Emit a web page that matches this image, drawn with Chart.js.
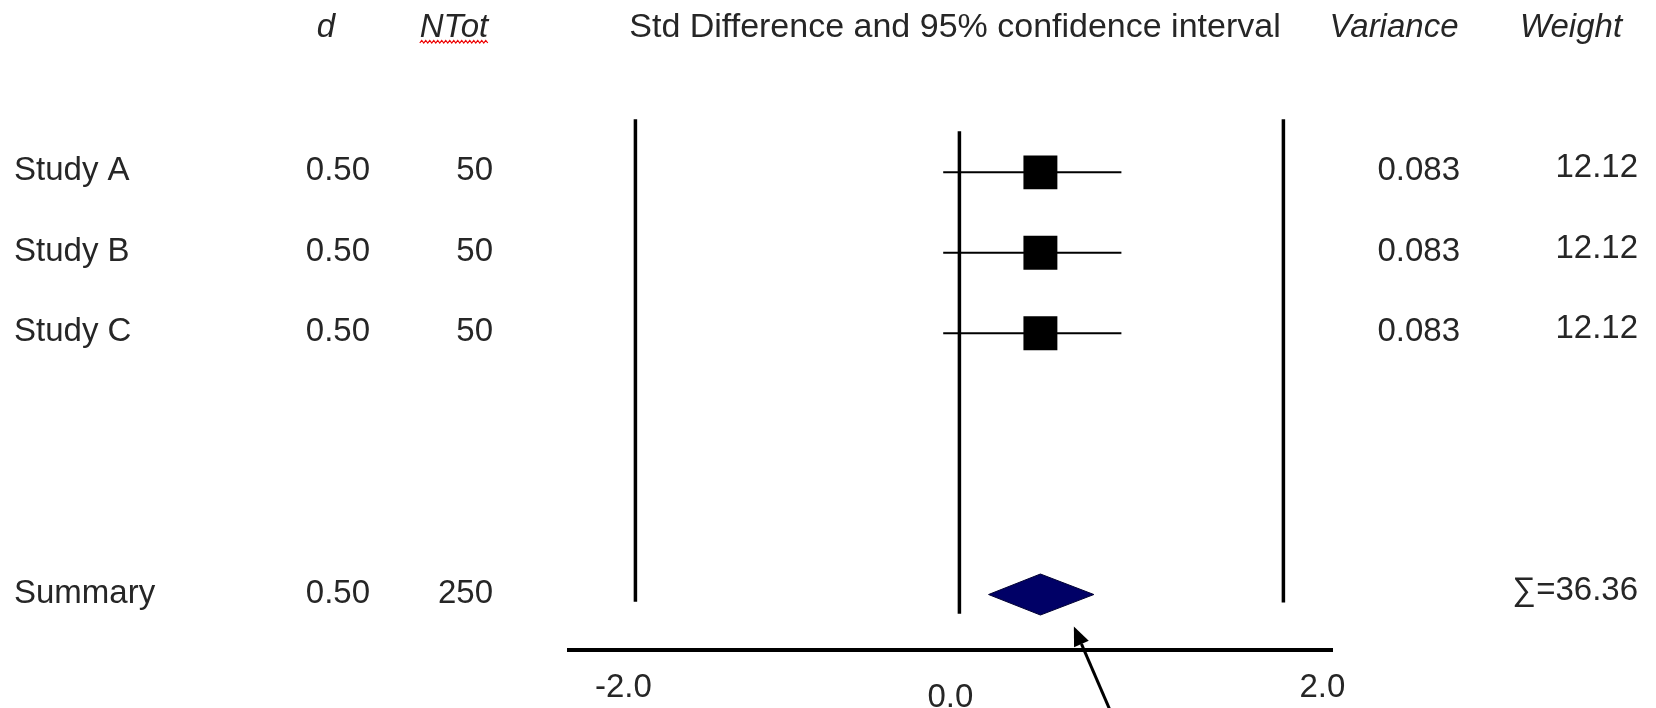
<!DOCTYPE html>
<html>
<head>
<meta charset="utf-8">
<script src="https://cdn.jsdelivr.net/npm/chart.js@4.4.1/dist/chart.umd.min.js"></script>
<style>
  html, body { margin: 0; padding: 0; background: #ffffff; }
  #wrap { width: 1656px; height: 708px; position: relative; }
</style>
</head>
<body>
<div id="wrap"><canvas id="c" width="1656" height="708"></canvas></div>
<script>
// ---------------- data ----------------
const studies = ['Study A', 'Study B', 'Study C'];
const dValues = [0.50, 0.50, 0.50];
const nTotals = [50, 50, 50];
const ciLower = [-0.10, -0.10, -0.10];
const ciUpper = [1.00, 1.00, 1.00];
const variances = [0.083, 0.083, 0.083];
const weights = [12.12, 12.12, 12.12];

const summaryLabel = 'Summary';
const summaryD = 0.50;
const summaryN = 250;
const summaryLower = 0.18;
const summaryUpper = 0.83;
const summaryWeight = 36.36;

const headerD = 'd';
const headerN = 'NTot';
const headerPlot = 'Std Difference and 95% confidence interval';
const headerVar = 'Variance';
const headerW = 'Weight';

const xTickValues = [-2, 0, 2];
const xTickLabels = ['-2.0', '0.0', '2.0'];

const refLineValues = [-2, 0, 2];
const refLineTop = [-0.66, -0.51, -0.66];
const refLineBottom = [5.34, 5.49, 5.35];

// ---------------- styles / layout ----------------
const FONT = '"Liberation Sans", Arial, sans-serif';
const FS = 33;
const FS_TITLE = 34;
const TEXT_COLOR = '#262626';
const summaryRow = studies.length + 2.25;
const diamondHalf = 0.255;
const cols = { label: 14, dRight: 370, nRight: 493, varRight: 1460, wRight: 1638,
               dHead: 326, nHead: 454, plotHead: 955, varHead: 1394, wHead: 1571,
               headBaseline: 37, rowBaselineDy: 8, weightDy: -3 };
const tickNudge = [{dx: -12, dy: 47}, {dx: -9, dy: 57}, {dx: 39, dy: 47}];

// ---------------- datasets ----------------
const datasets = [];
datasets.push({
  type: 'scatter', label: 'Std diff',
  data: studies.map((s, i) => ({x: dValues[i], y: i})),
  pointStyle: 'rect', pointRadius: 24, pointHoverRadius: 24,
  backgroundColor: '#000', borderColor: '#000', borderWidth: 0, order: 0
});
datasets.push({
  type: 'line', label: 'Summary',
  data: [
    {x: summaryLower, y: summaryRow},
    {x: summaryD, y: summaryRow - diamondHalf},
    {x: summaryUpper, y: summaryRow},
    {x: summaryD, y: summaryRow + diamondHalf},
    {x: summaryLower, y: summaryRow}
  ],
  fill: 'shape', backgroundColor: '#000066', borderColor: '#000033', borderWidth: 1,
  pointRadius: 0, tension: 0, order: 0
});
studies.forEach((s, i) => {
  datasets.push({
    type: 'line', label: s + ' CI',
    data: [{x: ciLower[i], y: i}, {x: ciUpper[i], y: i}],
    borderColor: '#000', borderWidth: 2, pointRadius: 0, fill: false, order: 1
  });
});
refLineValues.forEach((v, j) => {
  datasets.push({
    type: 'line', label: 'ref ' + v,
    data: [{x: v, y: refLineTop[j]}, {x: v, y: refLineBottom[j]}],
    borderColor: '#000', borderWidth: 3.5, pointRadius: 0, fill: false, order: 2
  });
});

// ---------------- text plugin ----------------
const tablePlugin = {
  id: 'forestTable',
  afterDraw(chart) {
    const ctx = chart.ctx;
    const xs = chart.scales.x, ys = chart.scales.y;
    ctx.save();
    ctx.fillStyle = TEXT_COLOR;
    ctx.textBaseline = 'alphabetic';
    const reg = FS + 'px ' + FONT;
    const ital = 'italic ' + FS + 'px ' + FONT;

    // headers
    ctx.textAlign = 'center';
    ctx.font = ital;
    ctx.fillText(headerD, cols.dHead, cols.headBaseline);
    ctx.fillText(headerN, cols.nHead, cols.headBaseline);
    ctx.fillText(headerVar, cols.varHead, cols.headBaseline);
    ctx.fillText(headerW, cols.wHead, cols.headBaseline);
    ctx.font = FS_TITLE + 'px ' + FONT;
    ctx.fillText(headerPlot, cols.plotHead, cols.headBaseline);

    // spell-check squiggle under NTot
    ctx.font = ital;
    const nw = ctx.measureText(headerN).width;
    ctx.strokeStyle = '#ee0000';
    ctx.lineWidth = 1.2;
    ctx.beginPath();
    let sx = cols.nHead - nw / 2, up = true;
    ctx.moveTo(sx, cols.headBaseline + 6);
    for (let x = sx + 2; x <= cols.nHead + nw / 2; x += 2) {
      ctx.lineTo(x, cols.headBaseline + (up ? 3.5 : 6));
      up = !up;
    }
    ctx.stroke();

    // study rows
    ctx.font = reg;
    studies.forEach((s, i) => {
      const yb = ys.getPixelForValue(i) + cols.rowBaselineDy;
      ctx.textAlign = 'left';
      ctx.fillText(s, cols.label, yb);
      ctx.textAlign = 'right';
      ctx.fillText(dValues[i].toFixed(2), cols.dRight, yb);
      ctx.fillText(String(nTotals[i]), cols.nRight, yb);
      ctx.fillText(variances[i].toFixed(3), cols.varRight, yb);
      ctx.fillText(weights[i].toFixed(2), cols.wRight, yb + cols.weightDy);
    });
    // summary row
    const ysb = ys.getPixelForValue(summaryRow) + cols.rowBaselineDy;
    ctx.textAlign = 'left';
    ctx.fillText(summaryLabel, cols.label, ysb);
    ctx.textAlign = 'right';
    ctx.fillText(summaryD.toFixed(2), cols.dRight, ysb);
    ctx.fillText(String(summaryN), cols.nRight, ysb);
    ctx.fillText('\u2211=' + summaryWeight.toFixed(2), cols.wRight, ysb + cols.weightDy);

    // x tick labels
    ctx.textAlign = 'center';
    xTickValues.forEach((v, k) => {
      ctx.fillText(xTickLabels[k], xs.getPixelForValue(v) + tickNudge[k].dx, chart.chartArea.bottom + tickNudge[k].dy);
    });

    // arrow pointing at the summary diamond
    const tipX = xs.getPixelForValue(summaryUpper) - 20;
    const tipY = ys.getPixelForValue(summaryRow) + 32;
    const dirX = 35, dirY = 81, len = Math.hypot(dirX, dirY);
    const ux = dirX / len, uy = dirY / len;
    const headLen = 19, headHalf = 8;
    const bx = tipX + ux * headLen, by = tipY + uy * headLen;
    ctx.strokeStyle = '#000';
    ctx.lineWidth = 3;
    ctx.beginPath();
    ctx.moveTo(bx, by);
    ctx.lineTo(tipX + ux * 110, tipY + uy * 110);
    ctx.stroke();
    ctx.fillStyle = '#000';
    ctx.beginPath();
    ctx.moveTo(tipX, tipY);
    ctx.lineTo(bx - uy * headHalf, by + ux * headHalf);
    ctx.lineTo(bx + uy * headHalf, by - ux * headHalf);
    ctx.closePath();
    ctx.fill();
    ctx.restore();
  }
};

new Chart(document.getElementById('c'), {
  type: 'scatter',
  data: { datasets },
  options: {
    responsive: false,
    devicePixelRatio: 1,
    animation: false,
    events: [],
    layout: { padding: { left: 569, right: 324, top: 100, bottom: 0 } },
    plugins: { legend: { display: false }, tooltip: { enabled: false }, title: { display: false } },
    scales: {
      x: {
        type: 'linear', min: -2.41, max: 2.30,
        grid: { display: false, drawTicks: false },
        border: { display: true, width: 4, color: '#000' },
        ticks: { display: false },
        afterFit: (s) => { s.height = 58; }
      },
      y: {
        type: 'linear', reverse: true, min: -0.9, max: 5.94,
        display: false
      }
    }
  },
  plugins: [tablePlugin]
});
</script>
</body>
</html>
